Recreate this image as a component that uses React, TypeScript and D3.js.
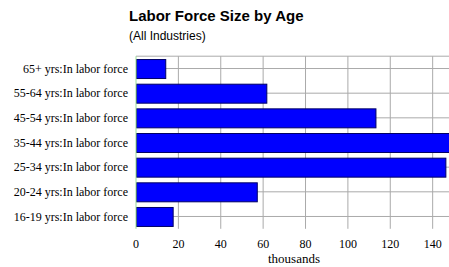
import React, { useEffect, useRef } from 'react';
import * as d3 from 'd3';

const categories = [
  '65+ yrs:In labor force',
  '55-64 yrs:In labor force',
  '45-54 yrs:In labor force',
  '35-44 yrs:In labor force',
  '25-34 yrs:In labor force',
  '20-24 yrs:In labor force',
  '16-19 yrs:In labor force',
];
const values = [13.8, 61.5, 113, 154, 146, 57, 17.3];
const xTicks = [0, 20, 40, 60, 80, 100, 120, 140];

export default function App() {
  const svgRef = useRef<SVGSVGElement>(null);

  useEffect(() => {
    if (!svgRef.current) return;
    const svg = d3.select(svgRef.current);
    svg.selectAll('*').remove();

    const left = 136;
    const top = 56.2;
    const bottom = 228.8;

    const x = d3.scaleLinear().domain([0, 150]).range([left, left + 150 * 2.119]);
    const y = d3.scaleBand<string>().domain(categories).range([top, bottom]).paddingInner(0.23).paddingOuter(0.115);

    // grid
    const g = svg.append('g');
    g.append('line')
      .attr('x1', left).attr('x2', 449).attr('y1', top).attr('y2', top)
      .attr('stroke', '#aaa');
    xTicks.slice(1).forEach(t => {
      g.append('line')
        .attr('x1', x(t)).attr('x2', x(t)).attr('y1', top).attr('y2', bottom)
        .attr('stroke', '#aaa');
    });
    categories.forEach(c => {
      const cy = (y(c) ?? 0) + y.bandwidth() / 2;
      g.append('line')
        .attr('x1', left).attr('x2', 449).attr('y1', cy).attr('y2', cy)
        .attr('stroke', '#aaa');
    });

    // bars
    svg.append('g')
      .selectAll('rect')
      .data(values)
      .enter()
      .append('rect')
      .attr('x', left + 0.5)
      .attr('y', (d, i) => (y(categories[i]) ?? 0) + 0.5)
      .attr('width', d => x(d) - left)
      .attr('height', y.bandwidth())
      .attr('fill', '#0000ff')
      .attr('stroke', '#000066')
      .attr('stroke-width', 1);

    // left axis
    svg.append('line')
      .attr('x1', left).attr('x2', left).attr('y1', top).attr('y2', bottom)
      .attr('stroke', '#99dd99');

    // category labels
    svg.append('g')
      .selectAll('text')
      .data(categories)
      .enter()
      .append('text')
      .attr('x', 128)
      .attr('y', d => (y(d) ?? 0) + y.bandwidth() / 2)
      .attr('dy', '0.35em')
      .attr('text-anchor', 'end')
      .attr('font-family', 'Liberation Serif, serif')
      .attr('font-size', 12)
      .attr('fill', '#000')
      .text(d => d);

    // x tick labels
    svg.append('g')
      .selectAll('text')
      .data(xTicks)
      .enter()
      .append('text')
      .attr('x', d => x(d))
      .attr('y', 248)
      .attr('text-anchor', 'middle')
      .attr('font-family', 'Liberation Serif, serif')
      .attr('font-size', 12)
      .attr('fill', '#000')
      .text(d => d);

    svg.append('text')
      .attr('x', 294).attr('y', 263)
      .attr('text-anchor', 'middle')
      .attr('font-family', 'Liberation Serif, serif')
      .attr('font-size', 13)
      .text('thousands');

    // titles
    svg.append('text')
      .attr('x', 129).attr('y', 21)
      .attr('font-family', 'Liberation Sans, Arial, sans-serif')
      .attr('font-weight', 'bold')
      .attr('font-size', 15)
      .text('Labor Force Size by Age');
    svg.append('text')
      .attr('x', 129).attr('y', 40)
      .attr('font-family', 'Liberation Sans, Arial, sans-serif')
      .attr('font-size', 12)
      .text('(All Industries)');
  }, []);

  return (
    <svg ref={svgRef} width={449} height={267}
      style={{ position: 'fixed', left: 0, top: 0, background: '#fff' }} />
  );
}
